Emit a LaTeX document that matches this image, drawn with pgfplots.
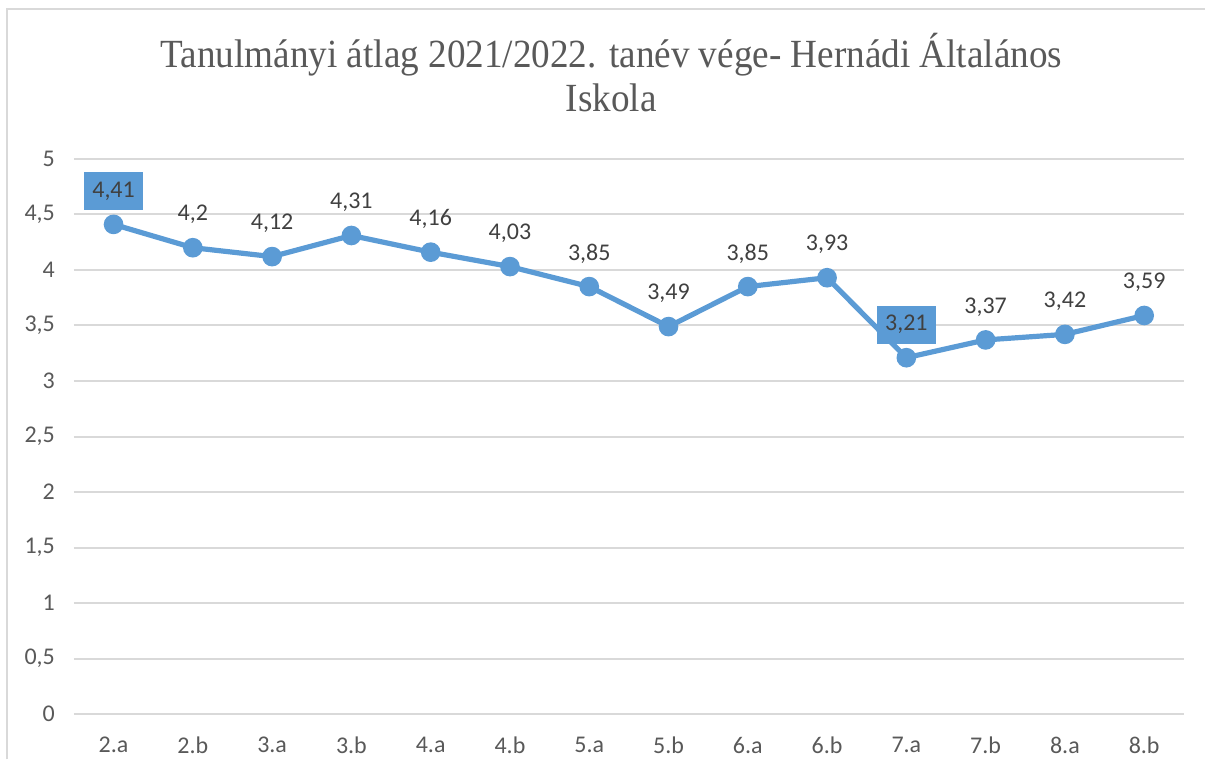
\documentclass[border=0pt]{standalone}
\usepackage{fontspec}
\setmainfont{Carlito}
\newfontfamily\titlefont{Liberation Serif}
\usepackage{pgfplots}
\pgfplotsset{compat=1.18}
\definecolor{xlblue}{HTML}{5B9BD5}
\definecolor{gridc}{HTML}{D9D9D9}
\definecolor{txt}{HTML}{595959}
\definecolor{lbl}{HTML}{404040}
\begin{document}
\begin{tikzpicture}
\path (0,0) rectangle (603pt,380pt);
\draw[gridc, line width=1.2pt] (3.5pt,0) -- (3.5pt,375.5pt) -- (603pt,375.5pt);
\node[text=txt, xscale=0.93] at (306pt,352.5pt) {\titlefont\fontsize{20}{24}\selectfont Tanulmányi átlag 2021/2022. tanév vége- Hernádi Általános};
\node[text=txt, xscale=0.93] at (306pt,331pt) {\titlefont\fontsize{20}{24}\selectfont Iskola};
\begin{axis}[
  at={(37pt,22.5pt)}, anchor=south west,
  scale only axis, width=555.5pt, height=278pt,
  xmin=-0.5, xmax=13.5, ymin=0, ymax=5,
  xtick={0,...,13},
  xticklabels={2.a,2.b,3.a,3.b,4.a,4.b,5.a,5.b,6.a,6.b,7.a,7.b,8.a,8.b},
  ytick={0,0.5,...,5},
  /pgf/number format/use comma,
  /pgf/number format/assume math mode=true,
  yticklabel style={/pgf/number format/fixed, font=\fontsize{12}{14}\selectfont, text=txt, xshift=-6pt},
  xticklabel style={font=\fontsize{12}{14}\selectfont, text=txt, yshift=-8pt},
  major tick length=0pt,
  axis line style={draw=none},
  ymajorgrids, grid style={gridc, line width=1pt},
  clip=false,
]
\addplot[xlblue, line width=2.6pt, mark=*, mark size=3.6pt, mark options={fill=xlblue, draw=xlblue},
  nodes near coords, point meta=y,
  every node near coord/.append style={font=\fontsize{12}{14}\selectfont, text=lbl, anchor=center, yshift=16.5pt,
    /pgf/number format/use comma, /pgf/number format/assume math mode=true}]
coordinates {(0,4.41) (1,4.2) (2,4.12) (3,4.31) (4,4.16) (5,4.03) (6,3.85) (7,3.49) (8,3.85) (9,3.93) (10,3.21) (11,3.37) (12,3.42) (13,3.59)};
\addplot[draw=none, mark=none,
  nodes near coords, point meta=y,
  every node near coord/.append style={font=\fontsize{12}{14}\selectfont, text=lbl, anchor=center, yshift=16.5pt,
    fill=xlblue, minimum width=29.5pt, minimum height=19pt, inner sep=0pt,
    /pgf/number format/use comma, /pgf/number format/assume math mode=true}]
coordinates {(0,4.41) (10,3.21)};
\end{axis}
\end{tikzpicture}
\end{document}
